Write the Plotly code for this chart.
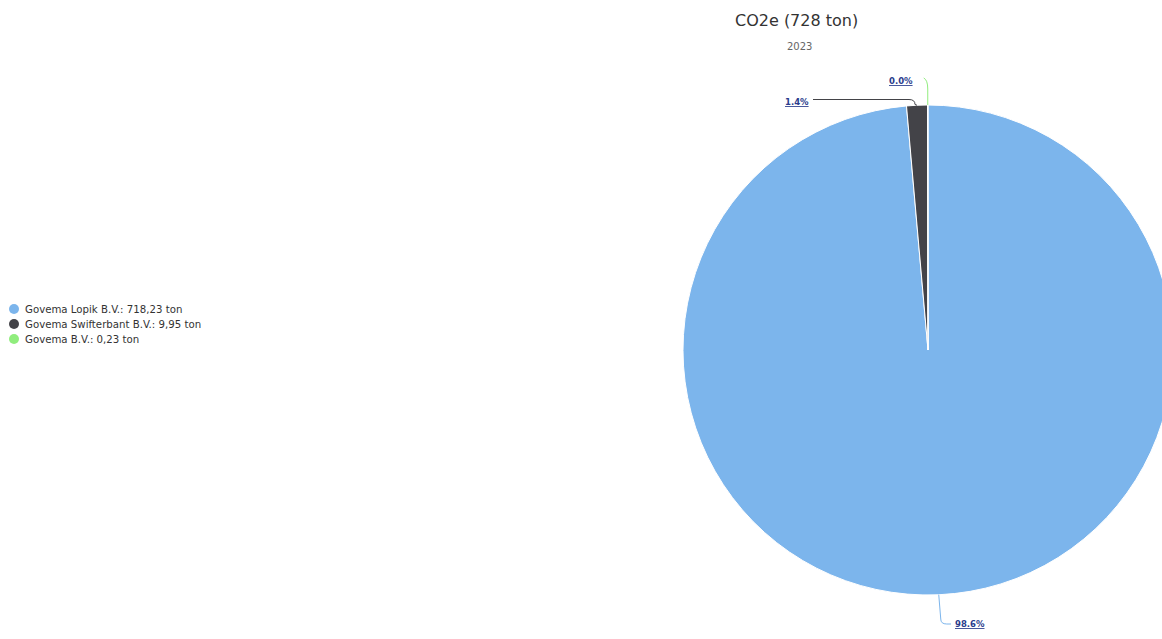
import math
import plotly.graph_objects as go

# ---- data ----
companies = ["Govema Lopik B.V.", "Govema Swifterbant B.V.", "Govema B.V."]
co2_ton = [718.23, 9.95, 0.23]
colors = ["#7cb5ec", "#434348", "#90ed7d"]
title_text = "CO2e (728 ton)"
subtitle_text = "2023"
unit = "ton"

# ---- layout geometry (pixels) ----
W, H = 1173, 639
ML, MR, MT, MB = 0, 0, 105, 44
PW, PH = W - ML - MR, H - MT - MB
CX, CY, R = 928.0, 350.0, 245.0

def px2x(px):
    return (px - ML) / PW

def py2y(py):
    return 1 - (py - MT) / PH

total = sum(co2_ton)

fig = go.Figure()
fig.add_trace(go.Pie(
    labels=companies,
    values=co2_ton,
    marker=dict(colors=colors, line=dict(color="#ffffff", width=1)),
    sort=False,
    direction="clockwise",
    rotation=0,
    textinfo="none",
    hovertemplate="%{label}: %{value:.2f} ton<extra></extra>",
    domain=dict(x=[px2x(CX - R), 1.0], y=[0, 1]),
    showlegend=False,
))

shapes = []
annotations = []

# data labels with connectors
# label anchor positions (px), connector y (px) and side (+1 right, -1 left)
label_pos = [(953, 624, 624, 1), (811, 102, 99.5, -1), (915, 81, 79, -1)]
cum = 0.0
for i, v in enumerate(co2_ton):
    frac = v / total
    mid = (cum + frac / 2) * 2 * math.pi
    cum += frac
    ex = CX + R * math.sin(mid)
    ey = CY - R * math.cos(mid)
    lx, ly, cy_, side = label_pos[i]
    sgn = 1 if cy_ > ey else -1
    bend_y = cy_ - 5 * sgn
    if i == 2:
        path = (f"M {px2x(ex)},{py2y(ey)} L {px2x(ex)},{py2y(cy_+10)} "
                f"Q {px2x(ex)},{py2y(cy_+1)} {px2x(ex-4)},{py2y(cy_-1)}")
    else:
        path = (f"M {px2x(ex)},{py2y(ey)} L {px2x(ex + 2*side)},{py2y(bend_y)} "
                f"Q {px2x(ex + 2*side)},{py2y(cy_)} {px2x(ex + 8*side)},{py2y(cy_)} "
                f"L {px2x(lx - 2*side)},{py2y(cy_)}")
    shapes.append(dict(type="path", xref="paper", yref="paper", path=path,
                       line=dict(color=colors[i], width=1)))
    annotations.append(dict(
        x=px2x(lx), y=py2y(ly), xref="paper", yref="paper",
        text=f"<b><u>{frac*100:.1f}%</u></b>", showarrow=False,
        xanchor="left" if side > 0 else "right", yanchor="middle",
        font=dict(family="DejaVu Sans", size=8.5, color="#2a3c8c"),
    ))

# title and subtitle
annotations.append(dict(x=px2x(796), y=py2y(21), xref="paper", yref="paper",
                        text=title_text, showarrow=False, xanchor="center", yanchor="middle",
                        font=dict(family="DejaVu Sans", size=16, color="#333333")))
annotations.append(dict(x=px2x(799.5), y=py2y(47), xref="paper", yref="paper",
                        text=subtitle_text, showarrow=False, xanchor="center", yanchor="middle",
                        font=dict(family="DejaVu Sans", size=10, color="#666666")))

# legend (circle symbols + text)
for i, (name, v) in enumerate(zip(companies, co2_ton)):
    yy = 309 + 15 * i
    shapes.append(dict(type="circle", xref="paper", yref="paper",
                       xsizemode="pixel", ysizemode="pixel",
                       xanchor=px2x(14), yanchor=py2y(yy),
                       x0=-5, x1=5, y0=-5, y1=5,
                       fillcolor=colors[i], line=dict(width=0)))
    val = f"{v:.2f}".replace(".", ",")
    annotations.append(dict(x=px2x(23), y=py2y(yy), xref="paper", yref="paper",
                            text=f"{name}: {val} {unit}", showarrow=False,
                            xanchor="left", yanchor="middle",
                            font=dict(family="DejaVu Sans", size=10.2, color="#333333")))

fig.update_layout(
    width=W, height=H,
    margin=dict(l=ML, r=MR, t=MT, b=MB, autoexpand=False),
    paper_bgcolor="#ffffff", plot_bgcolor="#ffffff",
    shapes=shapes, annotations=annotations,
    showlegend=False,
    font=dict(family="DejaVu Sans"),
)

fig.write_html("out.html", config={"displayModeBar": False}, post_script=(
    "document.documentElement.style.overflow='hidden';"
    "document.body.style.overflow='hidden';"
    "document.body.style.margin='0';"
))
